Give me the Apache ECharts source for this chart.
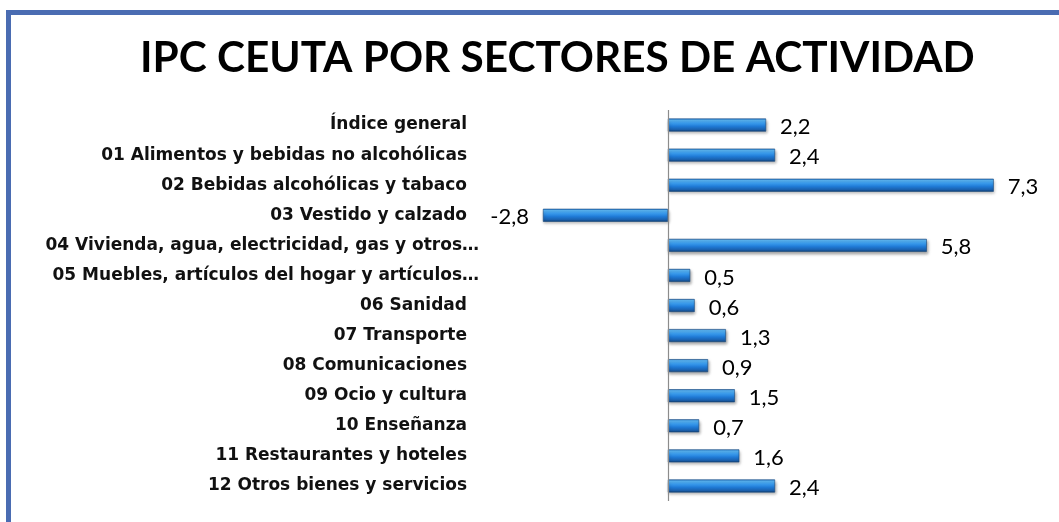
<!DOCTYPE html>
<html>
<head>
<meta charset="utf-8">
<script src="https://cdn.jsdelivr.net/npm/echarts@6/dist/echarts.min.js"></script>
<style>
    html, body { margin: 0; padding: 0; background: #fff; }
    #frame {
        position: absolute;
        left: 6px;
        top: 10px;
        width: 1100px;
        height: 600px;
        border: 5px solid #4a6cb2;
        box-sizing: border-box;
    }
    #chart { position: absolute; left: 0; top: 0; width: 1059px; height: 522px; }
</style>
</head>
<body>
<div id="frame"></div>
<div id="chart"></div>
<script>
const titleText = 'IPC CEUTA POR SECTORES DE ACTIVIDAD'
const categories = [
    'Índice general',
    '01 Alimentos y bebidas no alcohólicas',
    '02 Bebidas alcohólicas y tabaco',
    '03 Vestido y calzado',
    '04 Vivienda, agua, electricidad, gas y otros…',
    '05 Muebles, artículos del hogar y artículos…',
    '06 Sanidad',
    '07 Transporte',
    '08 Comunicaciones',
    '09 Ocio y cultura',
    '10 Enseñanza',
    '11 Restaurantes y hoteles',
    '12 Otros bienes y servicios'
]
const values = [2.2, 2.4, 7.3, -2.8, 5.8, 0.5, 0.6, 1.3, 0.9, 1.5, 0.7, 1.6, 2.4]

const chart = echarts.init(document.getElementById('chart'))

const barColor = new echarts.graphic.LinearGradient(0, 0, 0, 1, [
    { offset: 0, color: '#1b6cc0' },
    { offset: 0.12, color: '#5cb8f7' },
    { offset: 0.35, color: '#3a9cee' },
    { offset: 0.6, color: '#1f7ad6' },
    { offset: 0.85, color: '#1a60ad' },
    { offset: 1, color: '#123f73' }
])

const option = {
    animation: false,
    title: {
        text: titleText,
        left: 135,
        top: 32,
        textStyle: {
            fontFamily: 'Lato',
            fontWeight: 'bold',
            fontSize: 42.3,
            color: '#000'
        }
    },
    grid: {
        left: 534,
        right: 34,
        top: 110,
        bottom: 21,
        containLabel: false
    },
    xAxis: {
        type: 'value',
        min: -3,
        max: 8,
        show: false
    },
    yAxis: {
        type: 'category',
        inverse: true,
        data: categories.map(c => ({
            value: c,
            textStyle: c.endsWith('…') ? { padding: [0, -12, 0, 0] } : {}
        })),
        axisLine: { show: false },
        axisTick: { show: false },
        axisLabel: {
            margin: 67,
            fontFamily: 'DejaVu Sans',
            fontWeight: 'bold',
            fontSize: 17,
            color: '#111'
        }
    },
    series: [
        {
            type: 'bar',
            barWidth: 13,
            data: values.map(v => ({
                value: v,
                label: { position: v < 0 ? 'left' : 'right' }
            })),
            itemStyle: {
                color: barColor,
                borderColor: '#17497f',
                borderWidth: 0.6,
                shadowColor: 'rgba(0,0,0,0.35)',
                shadowBlur: 3,
                shadowOffsetX: 1,
                shadowOffsetY: 2
            },
            label: {
                show: true,
                distance: 14,
                fontFamily: 'Lato',
                fontSize: 22,
                color: '#000',
                offset: [0, 2],
                formatter: p => p.value.toFixed(1).replace('.', ',')
            },
            markLine: {
                silent: true,
                symbol: 'none',
                label: { show: false },
                lineStyle: { color: '#8c8c8c', width: 1.2, type: 'solid' },
                data: [{ xAxis: 0 }]
            }
        }
    ]
}
chart.setOption(option)
</script>
</body>
</html>
